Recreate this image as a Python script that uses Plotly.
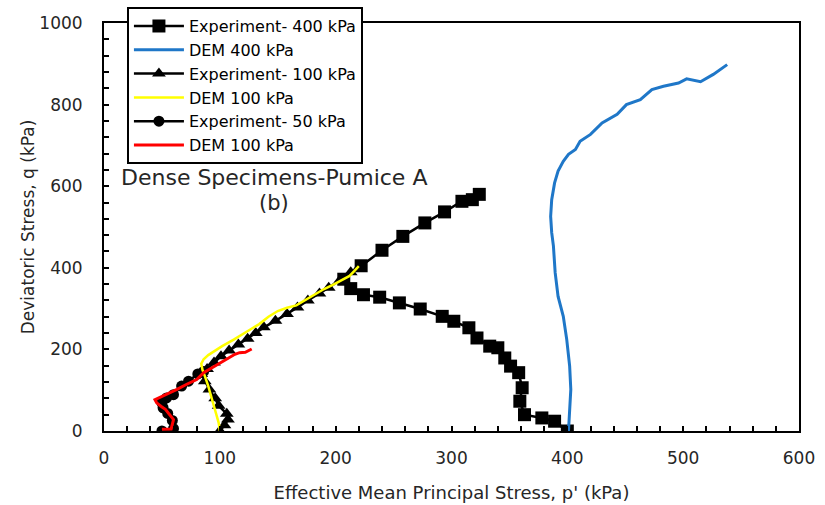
import plotly.graph_objects as go

# Experiment - 400 kPa (squares)
exp400_p = [400, 389, 378, 363, 359, 361, 358, 351, 346, 340, 333, 322, 315, 302, 292, 273, 255, 238, 224, 213, 207,
            222, 240, 258, 277, 294, 309, 318, 324]
exp400_q = [0, 24, 32, 40, 73, 106, 143, 159, 179, 204, 208, 228, 253, 269, 281, 299, 314, 328, 334, 349, 372,
            405, 443, 477, 510, 537, 563, 567, 580]

# DEM 400 kPa (blue)
dem400_p = [401, 402, 403, 402, 399.5, 396.5, 392, 389.5, 388, 386.5, 385.6, 386.5, 389, 392, 396.5, 401, 407, 411,
            420, 430, 443, 451, 458, 463, 473, 483, 496, 503, 515, 526, 538]
dem400_q = [0, 53, 102, 159, 224, 281, 330, 388, 453, 486, 526, 567, 608, 637, 661, 678, 690, 710,
            727, 755, 776, 800, 808, 812, 837, 845, 853, 863, 856, 874, 898]

# Experiment - 100 kPa (triangles)
exp100_p = [100, 104, 107, 106, 99, 96, 91, 87, 84, 89, 95, 101, 108, 116, 124, 131, 138, 148, 158, 167, 176, 186,
            194, 204, 213, 221]
exp100_q = [0, 14, 28, 42, 62, 80, 102, 122, 140, 152, 168, 183, 197, 212, 226, 240, 254, 270, 287, 303, 320, 337,
            351, 371, 389, 404]

# DEM 100 kPa (yellow)
dem100_p = [100, 99, 97, 95, 93, 90, 87, 85, 84, 86, 90, 96, 102, 112, 120, 127, 134, 142, 150, 158, 166, 172, 178,
            185, 190, 198, 206, 212, 216, 220]
dem100_q = [0, 20, 40, 60, 85, 110, 135, 150, 165, 176, 186, 197, 208, 224, 237, 250, 262, 280, 294, 302, 308, 318,
            330, 340, 348, 359, 371, 380, 392, 404]

# Experiment - 50 kPa (circles)
exp50_p = [50, 60, 59, 55, 51, 50, 54, 60, 67, 73, 81, 86]
exp50_q = [0, 6, 26, 43, 57, 69, 81, 89, 110, 122, 140, 146]

# DEM (red, legend says 100 kPa)
dem50_p = [50, 58, 60, 57, 53, 50, 45.5, 44, 47, 54, 63, 71, 80, 86, 96, 106, 113, 117, 122, 127.5]
dem50_q = [4, 5, 28, 40, 53, 59, 69, 77, 81, 89, 102, 114, 126, 143, 159, 175, 188, 192, 193, 201]

FONT = "DejaVu Sans"
TXT = "#262626"

fig = go.Figure()
fig.add_trace(go.Scatter(x=exp400_p, y=exp400_q, mode="lines+markers", name="Experiment- 400 kPa",
                         line=dict(color="black", width=2.5),
                         marker=dict(symbol="square", size=13, color="black"), legendrank=1))
fig.add_trace(go.Scatter(x=exp100_p, y=exp100_q, mode="lines+markers", name="Experiment- 100 kPa",
                         line=dict(color="black", width=2.5),
                         marker=dict(symbol="triangle-up", size=12, color="black"), legendrank=3))
fig.add_trace(go.Scatter(x=exp50_p, y=exp50_q, mode="lines+markers", name="Experiment- 50 kPa",
                         line=dict(color="black", width=2.5),
                         marker=dict(symbol="circle", size=11, color="black"), legendrank=5))
fig.add_trace(go.Scatter(x=dem400_p, y=dem400_q, mode="lines", name="DEM 400 kPa",
                         line=dict(color="#1f77c8", width=3), legendrank=2))
fig.add_trace(go.Scatter(x=dem100_p, y=dem100_q, mode="lines", name="DEM 100 kPa",
                         line=dict(color="#ffff00", width=2.5), legendrank=4))
fig.add_trace(go.Scatter(x=dem50_p, y=dem50_q, mode="lines", name="DEM 100 kPa",
                         line=dict(color="#ff0000", width=3), legendrank=6))

axis_common = dict(showgrid=False, zeroline=False, showline=True, linecolor="black", linewidth=2, mirror=True,
                   ticks="inside", ticklen=5, tickwidth=1.5, tickcolor="black",
                   tickfont=dict(family=FONT, size=17, color=TXT))

fig.update_xaxes(range=[0, 600], dtick=100, tick0=0,
                 minor=dict(dtick=20, ticks="inside", ticklen=5, tickwidth=1.5, tickcolor="black", showgrid=False),
                 title=dict(text="Effective Mean Principal Stress, p' (kPa)", font=dict(family=FONT, size=18, color=TXT),
                            standoff=19),
                 ticklabelstandoff=11, **axis_common)
fig.update_yaxes(range=[0, 1000], dtick=200, tick0=0,
                 minor=dict(dtick=40, ticks="inside", ticklen=5, tickwidth=1.5, tickcolor="black", showgrid=False),
                 title=dict(text="Deviatoric Stress, q (kPa)", font=dict(family=FONT, size=17, color=TXT),
                            standoff=0),
                 ticklabelstandoff=16, **axis_common)

fig.add_annotation(x=0.245, y=0.622, xref="paper", yref="paper", showarrow=False, xanchor="center",
                   text="Dense Specimens-Pumice A", font=dict(family=FONT, size=22, color=TXT))
fig.add_annotation(x=0.245, y=0.558, xref="paper", yref="paper", showarrow=False, xanchor="center",
                   text="(b)", font=dict(family=FONT, size=21, color=TXT))

fig.update_layout(
    width=825, height=505,
    margin=dict(l=104, r=26, t=23, b=74, autoexpand=False),
    plot_bgcolor="white", paper_bgcolor="white",
    showlegend=True,
    legend=dict(x=0.033, y=1.039, xanchor="left", yanchor="top", bgcolor="white",
                bordercolor="black", borderwidth=2, font=dict(family=FONT, size=16, color="black"),
                itemwidth=50, tracegroupgap=0),
)

fig.write_html("out.html")
